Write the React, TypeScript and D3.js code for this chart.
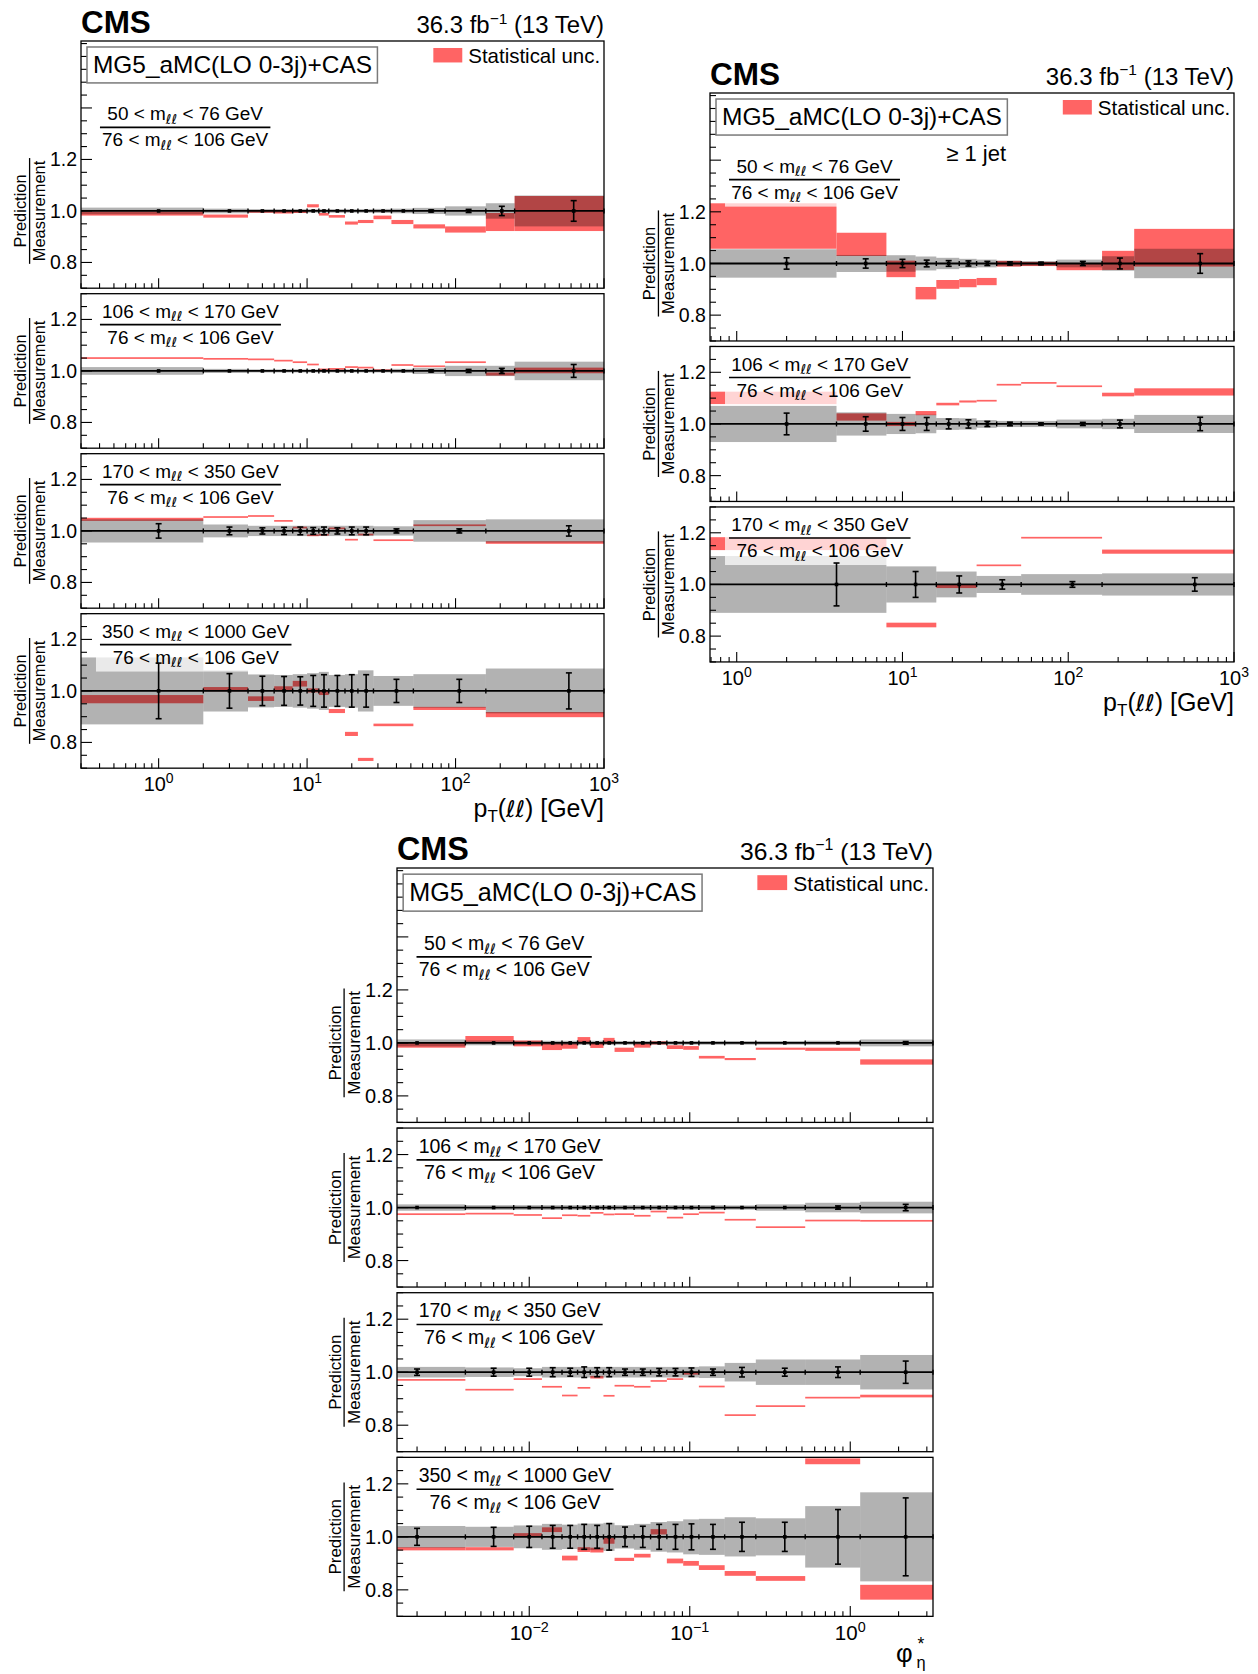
import React from 'react';
import * as d3 from 'd3';

const FONT = "'Liberation Sans', Arial, Helvetica, sans-serif";
const ELL_FONT = "'DejaVu Sans', 'Liberation Sans', sans-serif";
const RED = '#ff6464';

// ---------------- binning ----------------
const ptEdges = [0, 2, 4, 6, 8, 10, 12, 14, 18, 22, 28, 37, 52, 85, 160, 250, 1000];
const ptEdgesHighMass = [0, 2, 4, 6, 8, 10, 12, 14, 18, 22, 28, 52, 160, 1000];
const ptJetEdges = [0, 4, 8, 12, 16, 22, 28, 37, 52, 85, 160, 250, 1000];
const ptJetEdgesHighMass = [0, 8, 16, 28, 52, 160, 1000];
const phiEdges = [0, 0.004, 0.008, 0.012, 0.016, 0.02, 0.024, 0.029, 0.034, 0.045, 0.057, 0.072, 0.091, 0.114, 0.165, 0.258, 0.524, 1.153, 3.277];

const yTickLabels = ['0.8', '1.0', '1.2'];

// ---------------- pT(ll), inclusive ----------------
const pt50Pred = [0.99, 0.98, 0.997, 0.995, 0.997, 1.02, 0.987, 0.979, 0.953, 0.959, 0.975, 0.957, 0.94, 0.928, 0.957, 0.99];
const pt50PredUnc = [0.008, 0.006, 0.004, 0.005, 0.005, 0.006, 0.005, 0.005, 0.006, 0.006, 0.007, 0.008, 0.008, 0.012, 0.035, 0.068];
const pt50TotUnc = [0.013, 0.009, 0.007, 0.007, 0.007, 0.007, 0.007, 0.007, 0.007, 0.007, 0.008, 0.009, 0.012, 0.018, 0.03, 0.06];
const pt50StatUnc = [0.003, 0.003, 0.003, 0.003, 0.003, 0.003, 0.003, 0.003, 0.003, 0.003, 0.003, 0.003, 0.004, 0.006, 0.018, 0.04];

const pt106Pred = [1.05, 1.047, 1.045, 1.04, 1.034, 1.025, 1.006, 1.008, 1.015, 1.013, 1.003, 1.023, 1.018, 1.034, 0.988, 1.002];
const pt106PredUnc = [0.002, 0.002, 0.002, 0.002, 0.002, 0.002, 0.002, 0.002, 0.002, 0.002, 0.002, 0.002, 0.002, 0.003, 0.006, 0.011];
const pt106TotUnc = [0.015, 0.008, 0.006, 0.006, 0.006, 0.006, 0.006, 0.006, 0.006, 0.006, 0.006, 0.008, 0.012, 0.02, 0.02, 0.036];
const pt106StatUnc = [0.003, 0.003, 0.003, 0.003, 0.003, 0.003, 0.003, 0.003, 0.003, 0.003, 0.003, 0.003, 0.004, 0.006, 0.01, 0.025];

const pt170Pred = [1.045, 1.054, 1.058, 1.039, 1.013, 0.983, 0.985, 1.01, 0.966, 0.986, 0.964, 1.022, 0.955];
const pt170PredUnc = [0.006, 0.003, 0.003, 0.003, 0.003, 0.003, 0.003, 0.003, 0.003, 0.003, 0.003, 0.003, 0.005];
const pt170TotUnc = [0.045, 0.025, 0.02, 0.02, 0.02, 0.02, 0.02, 0.02, 0.02, 0.02, 0.018, 0.042, 0.045];
const pt170StatUnc = [0.028, 0.015, 0.012, 0.014, 0.015, 0.013, 0.015, 0.012, 0.015, 0.015, 0.008, 0.008, 0.02];

const pt350Pred = [0.968, 1.007, 0.97, 1.01, 1.028, 1.002, 0.992, 0.922, 0.833, 0.734, 0.868, 0.932, 0.908];
const pt350PredUnc = [0.016, 0.008, 0.009, 0.008, 0.011, 0.008, 0.008, 0.008, 0.008, 0.006, 0.005, 0.006, 0.01];
const pt350TotUnc = [0.13, 0.08, 0.064, 0.062, 0.065, 0.069, 0.074, 0.062, 0.065, 0.08, 0.058, 0.065, 0.087];
const pt350StatUnc = [0.108, 0.067, 0.057, 0.056, 0.055, 0.06, 0.063, 0.06, 0.063, 0.063, 0.045, 0.045, 0.07];

// ---------------- pT(ll), >= 1 jet ----------------
const jet50Pred = [1.145, 1.074, 0.979, 0.885, 0.919, 0.924, 0.93, 0.999, 0.998, 0.988, 1.012, 1.061];
const jet50PredUnc = [0.088, 0.045, 0.032, 0.024, 0.017, 0.016, 0.014, 0.011, 0.008, 0.014, 0.037, 0.073];
const jet50TotUnc = [0.055, 0.033, 0.032, 0.027, 0.022, 0.018, 0.015, 0.011, 0.009, 0.015, 0.028, 0.057];
const jet50StatUnc = [0.022, 0.018, 0.016, 0.013, 0.011, 0.01, 0.008, 0.006, 0.005, 0.008, 0.021, 0.038];

const jet106Pred = [1.101, 1.027, 1.0, 1.042, 1.077, 1.087, 1.09, 1.152, 1.159, 1.146, 1.114, 1.124];
const jet106PredUnc = [0.024, 0.014, 0.008, 0.008, 0.005, 0.004, 0.003, 0.002, 0.002, 0.003, 0.007, 0.014];
const jet106TotUnc = [0.07, 0.045, 0.039, 0.036, 0.023, 0.022, 0.015, 0.012, 0.012, 0.017, 0.02, 0.035];
const jet106StatUnc = [0.042, 0.028, 0.025, 0.025, 0.019, 0.016, 0.01, 0.007, 0.004, 0.006, 0.015, 0.026];

const jet170Pred = [1.158, 0.843, 0.992, 1.074, 1.181, 1.127];
const jet170PredUnc = [0.025, 0.009, 0.006, 0.003, 0.002, 0.008];
const jet170TotUnc = [0.11, 0.07, 0.05, 0.033, 0.04, 0.043];
const jet170StatUnc = [0.083, 0.05, 0.033, 0.018, 0.011, 0.026];

// ---------------- phi*_eta ----------------
const phi50Pred = [0.991, 1.015, 0.998, 0.986, 0.988, 1.01, 0.992, 1.008, 0.974, 0.99, 1.0, 0.984, 0.981, 0.946, 0.939, 0.978, 0.976, 0.928];
const phi50PredUnc = [0.009, 0.011, 0.011, 0.013, 0.01, 0.012, 0.011, 0.011, 0.008, 0.008, 0.006, 0.007, 0.007, 0.005, 0.004, 0.004, 0.006, 0.01];
const phi50TotUnc = [0.013, 0.009, 0.008, 0.008, 0.008, 0.008, 0.008, 0.008, 0.007, 0.007, 0.007, 0.007, 0.007, 0.007, 0.007, 0.007, 0.008, 0.013];
const phi50StatUnc = [0.003, 0.003, 0.003, 0.003, 0.003, 0.003, 0.003, 0.003, 0.003, 0.003, 0.003, 0.003, 0.003, 0.003, 0.003, 0.003, 0.003, 0.005];

const phi106Pred = [0.975, 0.977, 0.972, 0.96, 0.971, 0.969, 0.98, 0.974, 0.975, 0.969, 0.985, 0.962, 0.975, 0.981, 0.954, 0.926, 0.951, 0.95];
const phi106PredUnc = [0.0015, 0.0015, 0.0015, 0.0015, 0.0015, 0.0015, 0.0015, 0.0015, 0.0015, 0.0015, 0.0015, 0.0015, 0.0015, 0.0015, 0.0015, 0.0015, 0.002, 0.003];
const phi106TotUnc = [0.012, 0.009, 0.009, 0.009, 0.009, 0.009, 0.009, 0.009, 0.009, 0.009, 0.009, 0.009, 0.009, 0.009, 0.008, 0.012, 0.018, 0.022];
const phi106StatUnc = [0.003, 0.003, 0.003, 0.003, 0.003, 0.003, 0.003, 0.003, 0.003, 0.003, 0.003, 0.003, 0.003, 0.003, 0.003, 0.003, 0.006, 0.012];

const phi170Pred = [0.971, 0.934, 0.974, 0.945, 0.912, 0.941, 0.981, 0.911, 0.949, 0.945, 0.967, 0.974, 0.994, 0.946, 0.838, 0.872, 0.904, 0.91];
const phi170PredUnc = [0.002, 0.002, 0.002, 0.002, 0.002, 0.002, 0.005, 0.002, 0.002, 0.002, 0.002, 0.002, 0.002, 0.002, 0.002, 0.002, 0.003, 0.005];
const phi170TotUnc = [0.02, 0.018, 0.015, 0.02, 0.02, 0.02, 0.02, 0.02, 0.02, 0.02, 0.02, 0.02, 0.02, 0.022, 0.035, 0.048, 0.048, 0.065];
const phi170StatUnc = [0.012, 0.015, 0.015, 0.017, 0.015, 0.02, 0.017, 0.017, 0.012, 0.012, 0.014, 0.014, 0.016, 0.012, 0.018, 0.015, 0.02, 0.042];

const phi350Pred = [0.955, 0.955, 1.008, 1.027, 0.92, 0.952, 0.95, 0.985, 0.915, 0.929, 1.019, 0.909, 0.9, 0.884, 0.862, 0.843, 1.285, 0.791];
const phi350PredUnc = [0.006, 0.006, 0.006, 0.009, 0.009, 0.009, 0.009, 0.011, 0.006, 0.007, 0.01, 0.009, 0.009, 0.009, 0.009, 0.009, 0.011, 0.028];
const phi350TotUnc = [0.041, 0.038, 0.043, 0.049, 0.046, 0.05, 0.05, 0.053, 0.044, 0.049, 0.056, 0.059, 0.066, 0.068, 0.074, 0.07, 0.116, 0.168];
const phi350StatUnc = [0.032, 0.036, 0.04, 0.043, 0.043, 0.047, 0.043, 0.05, 0.037, 0.04, 0.047, 0.047, 0.049, 0.047, 0.055, 0.055, 0.103, 0.147];

// ---------------- types ----------------
type PanelData = {
  lo: string; hi: string; edges: number[];
  pred: number[]; predUnc: number[]; totUnc: number[]; statUnc: number[];
};
type PlotSpec = {
  id: string; left: number; right: number; top: number; unit: number;
  xDomain: [number, number]; xExps: number[]; xTitle: 'pt' | 'phi'; jet: boolean;
  panels: PanelData[];
};

const plots: PlotSpec[] = [
  {
    id: 'pt', left: 81, right: 604, top: 41, unit: 257.5, xDomain: [0.3, 1000], xExps: [0, 1, 2, 3], xTitle: 'pt', jet: false,
    panels: [
      { lo: '50', hi: '76', edges: ptEdges, pred: pt50Pred, predUnc: pt50PredUnc, totUnc: pt50TotUnc, statUnc: pt50StatUnc },
      { lo: '106', hi: '170', edges: ptEdges, pred: pt106Pred, predUnc: pt106PredUnc, totUnc: pt106TotUnc, statUnc: pt106StatUnc },
      { lo: '170', hi: '350', edges: ptEdgesHighMass, pred: pt170Pred, predUnc: pt170PredUnc, totUnc: pt170TotUnc, statUnc: pt170StatUnc },
      { lo: '350', hi: '1000', edges: ptEdgesHighMass, pred: pt350Pred, predUnc: pt350PredUnc, totUnc: pt350TotUnc, statUnc: pt350StatUnc },
    ],
  },
  {
    id: 'jet', left: 710, right: 1234, top: 93, unit: 258.3, xDomain: [0.69, 1000], xExps: [0, 1, 2, 3], xTitle: 'pt', jet: true,
    panels: [
      { lo: '50', hi: '76', edges: ptJetEdges, pred: jet50Pred, predUnc: jet50PredUnc, totUnc: jet50TotUnc, statUnc: jet50StatUnc },
      { lo: '106', hi: '170', edges: ptJetEdges, pred: jet106Pred, predUnc: jet106PredUnc, totUnc: jet106TotUnc, statUnc: jet106StatUnc },
      { lo: '170', hi: '350', edges: ptJetEdgesHighMass, pred: jet170Pred, predUnc: jet170PredUnc, totUnc: jet170TotUnc, statUnc: jet170StatUnc },
    ],
  },
  {
    id: 'phi', left: 397, right: 933, top: 868, unit: 265, xDomain: [0.0015, 3.277], xExps: [-2, -1, 0], xTitle: 'phi', jet: false,
    panels: [
      { lo: '50', hi: '76', edges: phiEdges, pred: phi50Pred, predUnc: phi50PredUnc, totUnc: phi50TotUnc, statUnc: phi50StatUnc },
      { lo: '106', hi: '170', edges: phiEdges, pred: phi106Pred, predUnc: phi106PredUnc, totUnc: phi106TotUnc, statUnc: phi106StatUnc },
      { lo: '170', hi: '350', edges: phiEdges, pred: phi170Pred, predUnc: phi170PredUnc, totUnc: phi170TotUnc, statUnc: phi170StatUnc },
      { lo: '350', hi: '1000', edges: phiEdges, pred: phi350Pred, predUnc: phi350PredUnc, totUnc: phi350TotUnc, statUnc: phi350StatUnc },
    ],
  },
];

// ---------------- helpers ----------------
const SUB = 0.72;
const charW = (c: string) => {
  if ('0123456789'.includes(c)) return 0.556;
  if (c === ' ') return 0.278;
  if (c === '<') return 0.584;
  if (c === 'm') return 0.833;
  if (c === 'G') return 0.778;
  if (c === 'e') return 0.556;
  if (c === 'V') return 0.667;
  return 0.556;
};
function massWidth(lo: string, hi: string, fs: number) {
  let w = 0;
  for (const c of `${lo} < m < ${hi} GeV`) w += charW(c);
  return (w + 2 * 0.42 * SUB) * fs;
}

function MassText({ lo, hi, x, y, fs }: { lo: string; hi: string; x: number; y: number; fs: number }) {
  const d = fs * 0.2;
  return (
    <text x={x} y={y} fontSize={fs} textAnchor="middle">
      {`${lo} < m`}
      <tspan fontSize={fs * SUB} dy={d} fontFamily={ELL_FONT}>ℓℓ</tspan>
      <tspan dy={-d}>{` < ${hi} GeV`}</tspan>
    </text>
  );
}

function PlotView({ p }: { p: PlotSpec }) {
  const s = p.unit / 258;
  const gap = 5.5 * s;
  const [xmin, xmax] = p.xDomain;
  const x = d3.scaleLog().domain(p.xDomain).range([p.left, p.right]);
  const xTicks: { v: number; major: boolean }[] = [];
  for (let k = Math.floor(Math.log10(xmin)); k <= Math.ceil(Math.log10(xmax)); k++) {
    for (let m = 1; m <= 9; m++) {
      const v = m * Math.pow(10, k);
      if (v >= xmin * 0.9999 && v <= xmax * 1.0001) xTicks.push({ v, major: m === 1 });
    }
  }
  const elems: React.ReactNode[] = [];
  let yCursor = p.top;
  let lastBottom = 0;

  p.panels.forEach((pd, i) => {
    const isTop = i === 0;
    const isLast = i === p.panels.length - 1;
    const yMax = isTop ? 1.66 : 1.3;
    const h = (yMax - 0.7) * p.unit;
    const y0 = yCursor;
    const y1 = y0 + h;
    yCursor = y1 + gap;
    lastBottom = y1;
    const y = d3.scaleLinear().domain([0.7, yMax]).range([y1, y0]);
    const clipId = `clip-${p.id}-${i}`;

    const bins = pd.pred.map((pv, j) => {
      const e0 = Math.max(pd.edges[j], xmin);
      const e1 = pd.edges[j + 1];
      return {
        xa: x(e0), xb: x(e1), xc: x((pd.edges[j] + e1) / 2),
        pv, pu: pd.predUnc[j], tu: pd.totUnc[j], su: pd.statUnc[j],
      };
    });

    // label geometry
    const fsL = 19 * s;
    const lineY = y0 + (isTop ? 86.5 : 31) * s;
    const lineLen = Math.max(massWidth(pd.lo, pd.hi, fsL), massWidth('76', '106', fsL)) + 4;
    const lineX0 = p.left + 19 * s;
    const lineC = lineX0 + lineLen / 2;

    const yTicks: { v: number; major: boolean }[] = [];
    for (let k = 14; k * 0.05 <= yMax + 1e-9; k++) {
      const v = k * 0.05;
      yTicks.push({ v, major: k % 4 === 0 });
    }

    const y1p = y(1);
    elems.push(
      <g key={`panel-${p.id}-${i}`}>
        <defs>
          <clipPath id={clipId}>
            <rect x={p.left} y={y0} width={p.right - p.left} height={h} />
          </clipPath>
        </defs>
        <g clipPath={`url(#${clipId})`}>
          {bins.map((b, j) => {
            const ya = y(b.pv + b.pu);
            const yb = y(b.pv - b.pu);
            const hh = Math.max(yb - ya, 1.7);
            const yc = (ya + yb) / 2;
            return <rect key={`r${j}`} x={b.xa} y={yc - hh / 2} width={b.xb - b.xa} height={hh} fill={RED} />;
          })}
          {bins.map((b, j) => (
            <rect key={`g${j}`} x={b.xa} y={y(1 + b.tu)} width={b.xb - b.xa} height={y(1 - b.tu) - y(1 + b.tu)}
              fill="#000" fillOpacity={0.3} />
          ))}
          <rect x={p.left + 15 * s} y={lineY - 30 * s} width={lineX0 + lineLen + 6 - (p.left + 15 * s)}
            height={57 * s} fill="#fff" fillOpacity={0.72} />
        </g>
        {/* nominal line and measurement points */}
        <line x1={p.left} x2={p.right} y1={y1p} y2={y1p} stroke="#000" strokeWidth={1.8} />
        {bins.map((b, j) => (
          <line key={`e${j}`} x1={b.xb} x2={b.xb} y1={y1p - 2.5} y2={y1p + 2.5} stroke="#000" strokeWidth={1.4} />
        ))}
        {bins.map((b, j) => {
          const ya = y(1 + b.su);
          const yb = y(1 - b.su);
          return (
            <g key={`m${j}`}>
              {yb - ya > 2 && (
                <>
                  <line x1={b.xc} x2={b.xc} y1={ya} y2={yb} stroke="#000" strokeWidth={1.6} />
                  <line x1={b.xc - 3} x2={b.xc + 3} y1={ya} y2={ya} stroke="#000" strokeWidth={1.6} />
                  <line x1={b.xc - 3} x2={b.xc + 3} y1={yb} y2={yb} stroke="#000" strokeWidth={1.6} />
                </>
              )}
              <rect x={b.xc - 1.8} y={y1p - 1.8} width={3.6} height={3.6} fill="#000" />
            </g>
          );
        })}
        {/* frame */}
        <rect x={p.left} y={y0} width={p.right - p.left} height={h} fill="none" stroke="#000" strokeWidth={1.3} />
        {/* y ticks */}
        {yTicks.map((t, j) => (
          <line key={`yt${j}`} x1={p.left} x2={p.left + (t.major ? 11 : 6) * s} y1={y(t.v)} y2={y(t.v)}
            stroke="#000" strokeWidth={1.1} />
        ))}
        {yTickLabels.map((lab) => (
          <text key={`yl${lab}`} x={p.left - 4 * s} y={y(+lab)} dy="0.36em" textAnchor="end" fontSize={19.5 * s}>{lab}</text>
        ))}
        {/* x ticks */}
        {xTicks.map((t, j) => (
          <line key={`xt${j}`} x1={x(t.v)} x2={x(t.v)} y1={y1} y2={y1 - (t.major ? 10 : 5) * s}
            stroke="#000" strokeWidth={1.1} />
        ))}
        {/* y axis title */}
        <g transform={`translate(${p.left},${y1p})`}>
          <text transform="rotate(-90)" x={0} y={-55 * s} textAnchor="middle" fontSize={16.5 * s}>Prediction</text>
          <text transform="rotate(-90)" x={0} y={-36 * s} textAnchor="middle" fontSize={16.5 * s}>Measurement</text>
          <line x1={-51.5 * s} x2={-51.5 * s} y1={-53 * s} y2={53 * s} stroke="#000" strokeWidth={1.3} />
        </g>
        {/* ratio label */}
        <MassText lo={pd.lo} hi={pd.hi} x={lineC} y={lineY - 7 * s} fs={fsL} />
        <line x1={lineX0} x2={lineX0 + lineLen} y1={lineY} y2={lineY} stroke="#000" strokeWidth={1.6} />
        <MassText lo="76" hi="106" x={lineC} y={lineY + 19 * s} fs={fsL} />
        {isTop && (
          <g>
            <text x={p.left} y={y0 - 8 * s} fontSize={31.5 * s} fontWeight="bold">CMS</text>
            <text x={p.right} y={y0 - 8 * s} fontSize={24 * s} textAnchor="end">
              36.3 fb
              <tspan fontSize={15.5 * s} dy={-9.5 * s}>−1</tspan>
              <tspan dy={9.5 * s}> (13 TeV)</tspan>
            </text>
            <rect x={p.left + 6 * s} y={y0 + 6 * s} width={291 * s} height={36 * s} fill="#fff" stroke="#7a7a7a" strokeWidth={1.5} />
            <text x={p.left + 12 * s} y={y0 + 32 * s} fontSize={24.5 * s}>MG5_aMC(LO 0-3j)+CAS</text>
            <rect x={p.right - 171 * s} y={y0 + 7 * s} width={29 * s} height={14.5 * s} fill={RED} />
            <text x={p.right - 136 * s} y={y0 + 22 * s} fontSize={20.5 * s}>Statistical unc.</text>
            {p.jet && (
              <text x={p.left + 236 * s} y={y0 + 68 * s} fontSize={22 * s}>≥ 1 jet</text>
            )}
          </g>
        )}
        {isLast && (
          <g>
            {xTicks.filter((t) => t.major).map((t, j) => {
              const e = Math.round(Math.log10(t.v));
              if (!p.xExps.includes(e)) return null;
              return (
                <text key={`xl${j}`} x={x(t.v)} y={y1 + 23 * s} textAnchor="middle" fontSize={20 * s}>
                  10
                  <tspan fontSize={14 * s} dy={-8 * s}>{e < 0 ? `−${-e}` : `${e}`}</tspan>
                </text>
              );
            })}
          </g>
        )}
      </g>
    );
  });

  if (p.xTitle === 'pt') {
    elems.push(
      <text key="xtitle" x={p.right} y={lastBottom + 49 * s} textAnchor="end" fontSize={25 * s}>
        p
        <tspan fontSize={17 * s} dy={5 * s}>T</tspan>
        <tspan dy={-5 * s}>(</tspan>
        <tspan fontFamily={ELL_FONT} fontSize={23 * s}>ℓℓ</tspan>
        <tspan>) [GeV]</tspan>
      </text>
    );
  } else {
    elems.push(
      <g key="xtitle">
        <text x={p.right - 36 * s} y={lastBottom + 44 * s} fontSize={25 * s}>φ</text>
        <text x={p.right - 16 * s} y={lastBottom + 50 * s} fontSize={16 * s}>η</text>
        <text x={p.right - 15 * s} y={lastBottom + 33 * s} fontSize={17 * s}>*</text>
      </g>
    );
  }
  return <g>{elems}</g>;
}

export default function App() {
  return (
    <svg width={1258} height={1674} viewBox="0 0 1258 1674"
      style={{ position: 'absolute', left: 0, top: 0, background: '#fff' }}
      fontFamily={FONT} fill="#000">
      <rect x={0} y={0} width={1258} height={1674} fill="#fff" />
      {plots.map((p) => <PlotView key={p.id} p={p} />)}
    </svg>
  );
}
